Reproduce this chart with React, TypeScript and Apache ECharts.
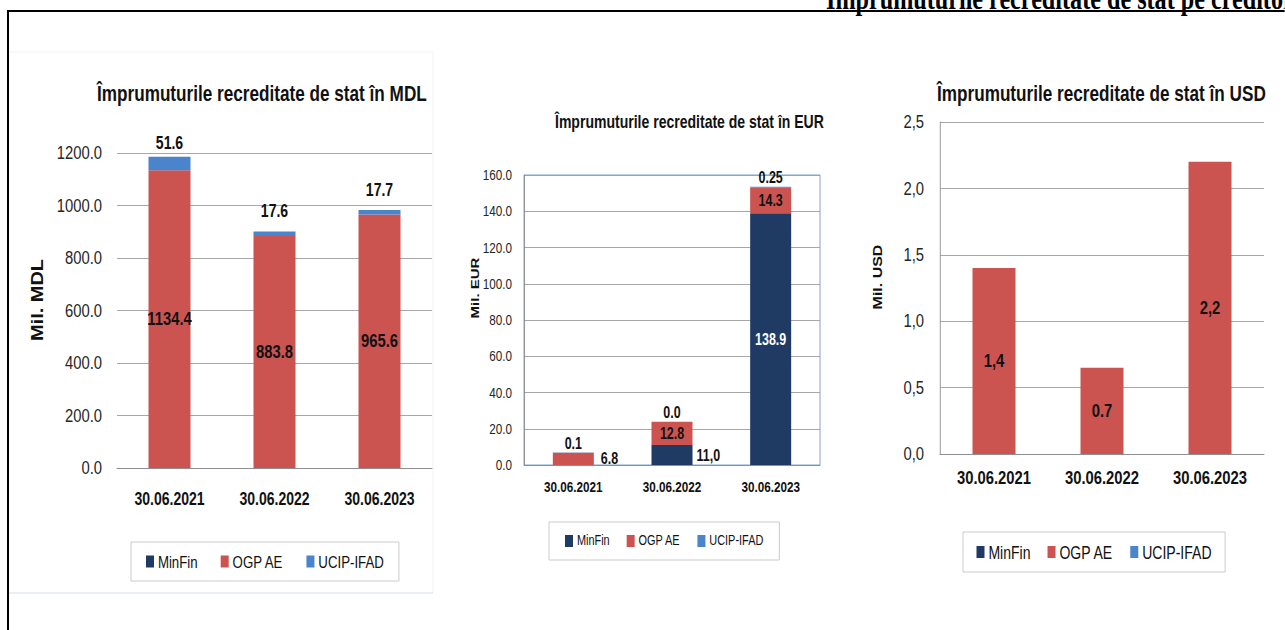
import React, { useEffect, useRef } from 'react';
import * as echarts from 'echarts';

// ---- data ----
const categories = ['30.06.2021', '30.06.2022', '30.06.2023'];
const seriesNames = ['MinFin', 'OGP AE', 'UCIP-IFAD'];

const mdlMinFin = [0, 0, 0];
const mdlOgp = [1134.4, 883.8, 965.6];
const mdlUcip = [51.6, 17.6, 17.7];

const eurMinFin = [0, 11.0, 138.9];
const eurOgp = [6.8, 12.8, 14.3];
const eurUcip = [0.1, 0.0, 0.25];
const eurMinFinLabels = ['', '11,0', '138.9'];
const eurOgpLabels = ['6.8', '12.8', '14.3'];
const eurUcipLabels = ['0.1', '0.0', '0.25'];

const usdMinFin = [0, 0, 0];
const usdOgp = [1.4, 0.65, 2.2];
const usdUcip = [0, 0, 0];
const usdOgpLabels = ['1,4', '0.7', '2,2'];

const pageTitle = 'Împrumuturile recreditate de stat pe creditori';
const mdlTitle = 'Împrumuturile recreditate de stat în MDL';
const eurTitle = 'Împrumuturile recreditate de stat în EUR';
const usdTitle = 'Împrumuturile recreditate de stat în USD';

// ---- layout: the reference is horizontally condensed; draw wide, then squeeze ----
const S = 0.78;
const PAGE_W = 1285;
const PAGE_H = 630;
const X = (px: number) => px / S;

const F = "'Liberation Sans', Arial, sans-serif";
const COLORS: Record<string, string> = {
  MinFin: '#1F3A63',
  'OGP AE': '#CB5451',
  'UCIP-IFAD': '#4A84CC',
};
const GRID_COLOR = '#9c9c9c';

function bar(name: string, data: any[], idx: number, stack: string, width: number, label: any = { show: false }) {
  return {
    type: 'bar',
    name,
    xAxisIndex: idx,
    yAxisIndex: idx,
    stack,
    barWidth: X(width),
    data,
    itemStyle: { color: COLORS[name] },
    label,
    emphasis: { disabled: true },
  };
}

function yAxis(idx: number, max: number, interval: number, fmt: (v: number) => string, size: number, margin: number, showLine: boolean) {
  return {
    type: 'value',
    gridIndex: idx,
    min: 0,
    max,
    interval,
    axisLine: { show: showLine, lineStyle: { color: '#8c8c8c' } },
    axisTick: { show: false },
    splitLine: { show: true, lineStyle: { color: GRID_COLOR, width: 1 } },
    axisLabel: { formatter: fmt, fontFamily: F, fontSize: size, color: '#262626', margin: X(margin) },
  };
}

function xAxis(idx: number, size: number, margin: number) {
  return {
    type: 'category',
    gridIndex: idx,
    data: categories,
    axisTick: { show: false },
    axisLine: { show: true, lineStyle: { color: '#8c8c8c' } },
    axisLabel: { interval: 0, fontFamily: F, fontSize: size, fontWeight: 'bold', color: '#111', margin },
  };
}

function legend(left: number, top: number, size: number, padV: number, padH: number, gap: number) {
  return {
    left: X(left),
    top,
    data: seriesNames,
    icon: 'rect',
    itemWidth: X(8),
    itemHeight: 12,
    itemGap: X(gap),
    padding: [padV, X(padH), padV, X(padH)],
    borderColor: '#c4c4c4',
    borderWidth: 1,
    selectedMode: false,
    textStyle: { fontFamily: F, fontSize: size, color: '#111' },
  };
}

function title(text: string, left: number, top: number, size: number) {
  return {
    text,
    left: X(left),
    top,
    padding: 0,
    textStyle: { fontFamily: F, fontSize: size, fontWeight: 'bold', color: '#111' },
  };
}

function hLine(x1: number, x2: number, y: number, stroke: string, w: number) {
  return { type: 'line', silent: true, shape: { x1: X(x1), y1: y, x2: X(x2), y2: y }, style: { stroke, lineWidth: w } };
}
function vLine(x: number, y1: number, y2: number, stroke: string, w: number) {
  return { type: 'line', silent: true, shape: { x1: X(x), y1, x2: X(x), y2 }, style: { stroke, lineWidth: X(w) } };
}
function yName(text: string, x: number, y: number, size: number) {
  return {
    type: 'text', silent: true, x: X(x), y, rotation: Math.PI / 2,
    style: { text, font: `bold ${size}px ${F}`, fill: '#111', align: 'center', verticalAlign: 'middle' },
  };
}

export default function App() {
  const ref = useRef<HTMLDivElement>(null);

  useEffect(() => {
    if (!ref.current) return;
    const chart = echarts.init(ref.current, null, { renderer: 'svg' });

    const mdlUcipDist = [5, 12, 12];

    const option: any = {
      animation: false,
      backgroundColor: '#ffffff',
      title: [
        title(mdlTitle, 97, 82, 22),
        title(eurTitle, 555, 112, 18),
        title(usdTitle, 937, 82, 22),
      ],
      legend: [
        legend(131, 542, 17, 11, 15, 23),
        legend(549, 522, 14, 12, 16, 17),
        legend(963, 532, 18, 11, 13.5, 17),
      ],
      grid: [
        { left: X(117), top: 153, width: X(315), height: 315 },
        { left: X(524), top: 175, width: X(296), height: 290, show: true, borderColor: '#6F97CC', borderWidth: 1, backgroundColor: 'transparent' },
        { left: X(940), top: 122, width: X(324), height: 332 },
      ],
      xAxis: [xAxis(0, 18, 21), xAxis(1, 15, 14.5), xAxis(2, 19, 14.5)],
      yAxis: [
        yAxis(0, 1200, 200, (v: number) => v.toFixed(1), 19, 15, false),
        yAxis(1, 160, 20, (v: number) => v.toFixed(1), 15, 12, true),
        yAxis(2, 2.5, 0.5, (v: number) => v.toFixed(1).replace('.', ','), 19, 16, true),
      ],
      series: [
        // MDL
        bar('MinFin', mdlMinFin, 0, 'mdl', 42),
        bar('OGP AE', mdlOgp, 0, 'mdl', 42, {
          show: true, position: 'inside', fontFamily: F, fontSize: 19, fontWeight: 'bold', color: '#111',
          formatter: (p: any) => Number(p.value).toFixed(1),
        }),
        bar('UCIP-IFAD', mdlUcip.map((v, i) => ({ value: v, label: { distance: mdlUcipDist[i] } })), 0, 'mdl', 42, {
          show: true, position: 'top', fontFamily: F, fontSize: 18, fontWeight: 'bold', color: '#111',
          formatter: (p: any) => Number(p.value).toFixed(1),
        }),
        // EUR
        bar('MinFin', eurMinFin.map((v, i) => ({
          value: v,
          label: i === 2 ? { position: 'inside', color: '#fff' } : { position: 'right', distance: X(4), color: '#111' },
        })), 1, 'eur', 41, {
          show: true, fontFamily: F, fontSize: 16, fontWeight: 'bold',
          formatter: (p: any) => eurMinFinLabels[p.dataIndex],
        }),
        bar('OGP AE', eurOgp.map((v, i) => ({
          value: v,
          label: i === 0 ? { position: 'right', distance: X(7) } : { position: 'inside' },
        })), 1, 'eur', 41, {
          show: true, fontFamily: F, fontSize: 16, fontWeight: 'bold', color: '#111',
          formatter: (p: any) => eurOgpLabels[p.dataIndex],
        }),
        bar('UCIP-IFAD', eurUcip, 1, 'eur', 41, {
          show: true, position: 'top', distance: 1, fontFamily: F, fontSize: 16, fontWeight: 'bold', color: '#111',
          formatter: (p: any) => eurUcipLabels[p.dataIndex],
        }),
        // USD
        bar('MinFin', usdMinFin, 2, 'usd', 43),
        bar('OGP AE', usdOgp, 2, 'usd', 43, {
          show: true, position: 'inside', fontFamily: F, fontSize: 19, fontWeight: 'bold', color: '#111',
          formatter: (p: any) => usdOgpLabels[p.dataIndex],
        }),
        bar('UCIP-IFAD', usdUcip, 2, 'usd', 43),
      ],
      graphic: [
        // page frame and header
        hLine(8, PAGE_W, 11, '#000', 2),
        vLine(8, 10, PAGE_H, '#000', 2),
        {
          type: 'text', silent: true, x: X(826), y: -2,
          style: { text: pageTitle, font: "bold 31px 'Liberation Serif', 'Times New Roman', serif", fill: '#000', align: 'left', verticalAlign: 'middle' },
        },
        // MDL panel border
        hLine(9, 433, 52, '#eef2f7', 1),
        vLine(433, 52, 593, '#eef2f7', 1),
        hLine(9, 433, 593, '#cfdbe9', 1),
        // y-axis names
        yName('Mil. MDL', 38, 300, 20),
        yName('Mil. EUR', 475, 288, 15),
        yName('Mil. USD', 878, 277, 16),
      ],
    };

    chart.setOption(option);
    return () => chart.dispose();
  }, []);

  return (
    <div style={{ position: 'absolute', left: 0, top: 0, width: PAGE_W, height: PAGE_H, overflow: 'hidden' }}>
      <div
        ref={ref}
        style={{
          position: 'absolute', left: 0, top: 0,
          width: X(PAGE_W), height: PAGE_H,
          transform: `scaleX(${S})`, transformOrigin: '0 0',
        }}
      />
    </div>
  );
}
